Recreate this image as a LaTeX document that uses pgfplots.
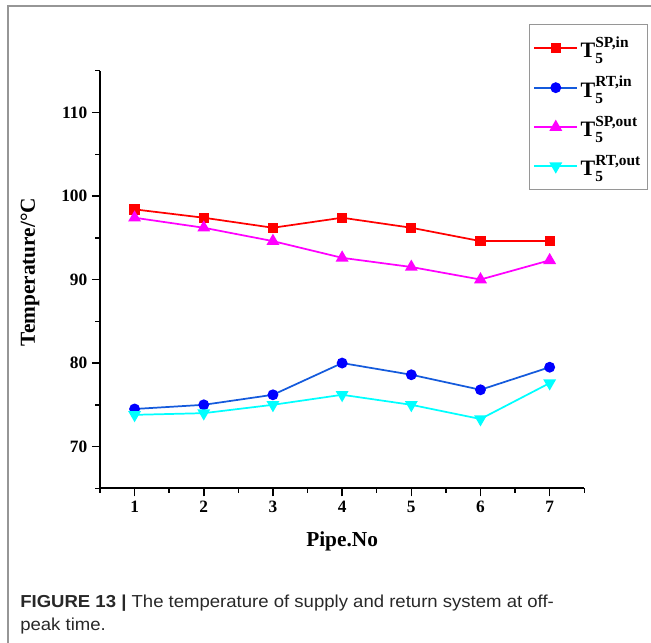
\documentclass[border=0pt]{standalone}
\usepackage{fontspec}
\setmainfont{Liberation Serif}
\newfontfamily\capfont[FakeStretch=1.07]{Liberation Sans}
\usepackage{amsmath}
\usepackage{pgfplots}
\pgfplotsset{compat=1.18}

\definecolor{capgray}{RGB}{40,40,40}
\definecolor{framegray}{RGB}{150,150,150}
\definecolor{lineblue}{RGB}{20,90,220}
\definecolor{pureblue}{RGB}{0,0,255}
\definecolor{purered}{RGB}{255,0,0}
\definecolor{puremagenta}{RGB}{255,0,255}
\definecolor{purecyan}{RGB}{0,255,255}

\newcommand{\Tlab}[1]{$\text{\bfseries T}^{\text{\bfseries #1}}_{\text{\bfseries 5}}$}

\begin{document}
\begin{tikzpicture}[x=0.75pt,y=0.75pt]
\useasboundingbox (0,0) rectangle (651,643);
% page frame
\draw[framegray, line width=0.9pt] (8,0) -- (8,637) -- (651,637);

\begin{axis}[
  at={(75pt,116pt)}, anchor=south west,
  scale only axis, width=363.2pt, height=313.2pt,
  xmin=0.5, xmax=7.5, ymin=65, ymax=115,
  axis lines=left,
  axis line style={line width=1.4pt, -},
  xtick={1,...,7}, ytick={70,80,90,100,110},
  minor xtick={0.5,1.5,...,7.5}, minor ytick={65,75,...,115},
  tick align=outside,
  major tick length=6pt, minor tick length=3.5pt,
  every tick/.style={line width=1.1pt, black},
  /pgf/number format/assume math mode=true,
  ticklabel style={font=\fontsize{13}{15}\selectfont\bfseries},
  xlabel={Pipe.No}, ylabel={Temperature/°C},
  label style={font=\fontsize{16}{18}\selectfont\bfseries},
  xlabel style={at={(axis description cs:0.5,-0.128)}, anchor=center},
  ylabel style={at={(axis description cs:-0.1445,0.518)}, anchor=center},
  legend style={at={(axis description cs:0.886,1.112)}, anchor=north west,
    draw=framegray, line width=0.8pt, font=\fontsize{16.5}{18}\selectfont,
    row sep=8.5pt, inner xsep=3pt, inner ysep=7pt},
  legend cell align=left,
  legend image code/.code={%
    \draw[mark repeat=2, mark phase=2] plot coordinates {(0pt,0pt) (16pt,0pt) (32pt,0pt)};},
  clip=false,
]
\addplot[purered, line width=1.3pt, mark=square*, mark size=3.2pt, mark options={solid}]
  coordinates {(1,98.4) (2,97.4) (3,96.2) (4,97.4) (5,96.2) (6,94.6) (7,94.6)};
\addlegendentry{\Tlab{SP,in}}
\addplot[lineblue, line width=1.3pt, mark=*, mark size=3.4pt, mark options={pureblue, fill=pureblue}]
  coordinates {(1,74.5) (2,75.0) (3,76.2) (4,80.0) (5,78.6) (6,76.8) (7,79.5)};
\addlegendentry{\Tlab{RT,in}}
\addplot[puremagenta, line width=1.3pt, mark=triangle*, mark size=4.3pt]
  coordinates {(1,97.4) (2,96.2) (3,94.6) (4,92.6) (5,91.5) (6,90.0) (7,92.3)};
\addlegendentry{\Tlab{SP,out}}
\addplot[purecyan, line width=1.3pt, mark=triangle*, mark size=4.3pt, mark options={rotate=180}]
  coordinates {(1,73.8) (2,74.0) (3,75.0) (4,76.2) (5,75.0) (6,73.3) (7,77.6)};
\addlegendentry{\Tlab{RT,out}}
\end{axis}

% caption
\node[anchor=base west, inner sep=0pt, text=capgray, font=\capfont\fontsize{13}{17}\selectfont] at (20,35)
  {\textbf{FIGURE 13 |} The temperature of supply and return system at off-};
\node[anchor=base west, inner sep=0pt, text=capgray, font=\capfont\fontsize{13}{17}\selectfont] at (20,12)
  {peak time.};
\end{tikzpicture}
\end{document}
